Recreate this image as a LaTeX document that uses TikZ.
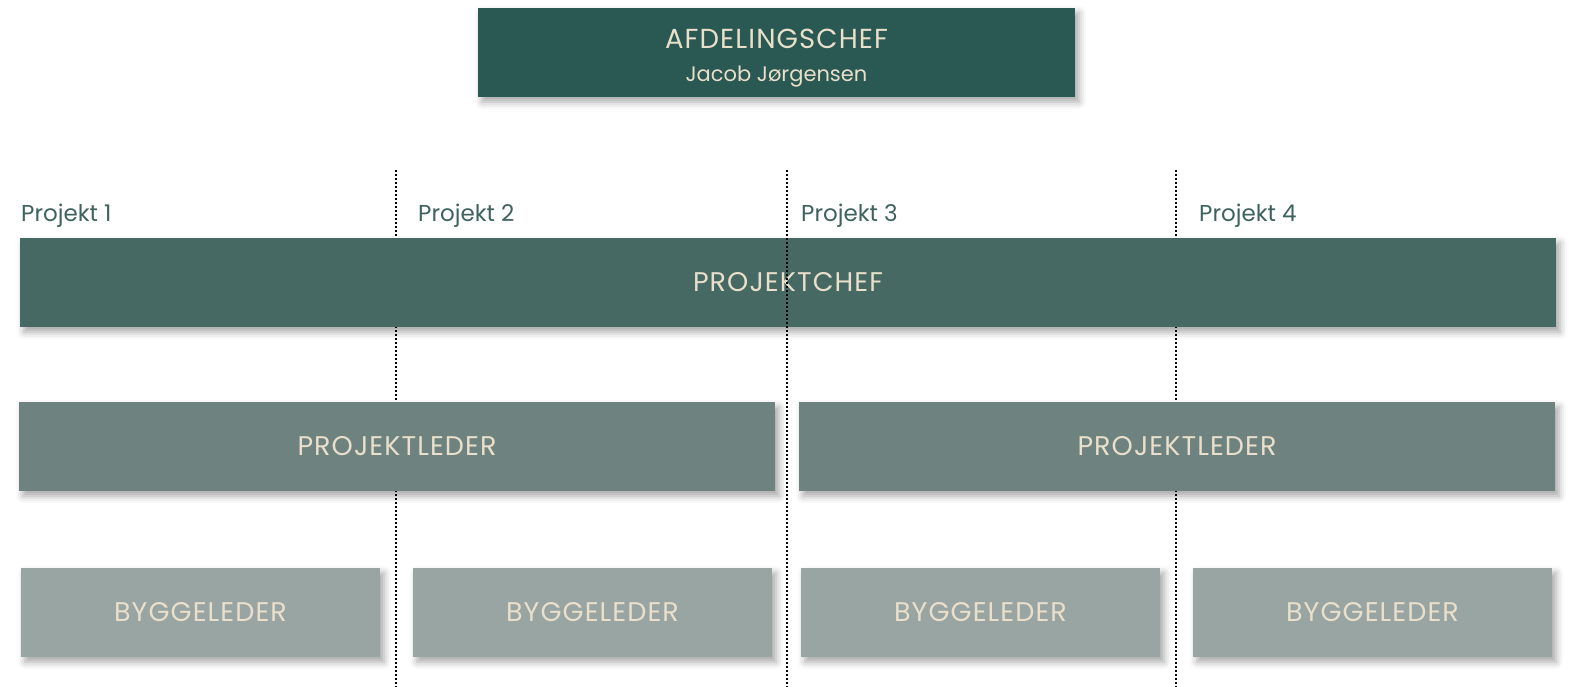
\documentclass[tikz,border=0pt]{standalone}
\usepackage{fontspec}
\setmainfont{Poppins}
\usetikzlibrary{shadows.blur}
\definecolor{afdcol}{HTML}{2A5852}
\definecolor{pccol}{HTML}{466963}
\definecolor{plcol}{HTML}{6E837F}
\definecolor{blcol}{HTML}{99A5A2}
\definecolor{txtcol}{HTML}{E9DFCB}
\definecolor{lblcol}{HTML}{3E625D}
\newcommand{\capsfont}[1]{\fontsize{#1}{#1}\selectfont\addfontfeatures{LetterSpace=4}}
\begin{document}
\begin{tikzpicture}[x=1pt,y=-1pt,
  box/.style={rectangle, inner sep=0pt, minimum height=89pt, text=txtcol,
    blur shadow={shadow xshift=4pt, shadow yshift=-5pt, shadow blur radius=7pt, shadow opacity=35},
    font=\capsfont{27}, align=center},
  projlbl/.style={anchor=base west, inner sep=0pt, text=lblcol, font=\fontsize{23}{26}\selectfont},
  sepline/.style={line width=2pt, dash pattern=on 2pt off 2pt, black}]
\useasboundingbox (0,0) rectangle (1569,687);
% separators behind boxes
\coordinate (s1t) at (396,170); \coordinate (s1b) at (396,687);
\coordinate (s2t) at (787,170); \coordinate (s2b) at (787,687);
\coordinate (s3t) at (1176,170); \coordinate (s3b) at (1176,687);
\draw[sepline] (s1t) -- (s1b);
\draw[sepline] (s3t) -- (s3b);
% boxes
\node[box, fill=afdcol, minimum width=597pt] (afd) at (776.5,52.5) {};
\node[inner sep=0pt, text=txtcol, align=center, anchor=center] (afdtext) at ([yshift=-5.5pt]afd.center)
  {{\capsfont{27.5}AFDELINGSCHEF}\\[16pt]{\fontsize{21}{21}\selectfont Jacob Jørgensen}};
\node[box, fill=pccol, minimum width=1536pt] (pc) at (788,282.5) {PROJEKTCHEF};
\node[box, fill=plcol, minimum width=756pt] (pl1) at (397,446.5) {PROJEKTLEDER};
\node[box, fill=plcol, minimum width=756pt] (pl2) at (1177,446.5) {PROJEKTLEDER};
\node[box, fill=blcol, minimum width=359pt] (bl1) at (200.5,612.5) {BYGGELEDER};
\node[box, fill=blcol, minimum width=359pt] (bl2) at (592.5,612.5) {\raisebox{2pt}{BYGGELEDER}};
\node[box, fill=blcol, minimum width=359pt] (bl3) at (980.5,612.5) {BYGGELEDER};
\node[box, fill=blcol, minimum width=359pt] (bl4) at (1372.5,612.5) {BYGGELEDER};
% labels
\node[projlbl] (p1) at (21,222) {Projekt 1};
\node[projlbl] (p2) at (418,222) {Projekt 2};
\node[projlbl] (p3) at (801,222) {Projekt 3};
\node[projlbl] (p4) at (1199,222) {Projekt 4};
% middle separator on top
\draw[sepline] (s2t) -- (s2b);
\end{tikzpicture}
\end{document}
